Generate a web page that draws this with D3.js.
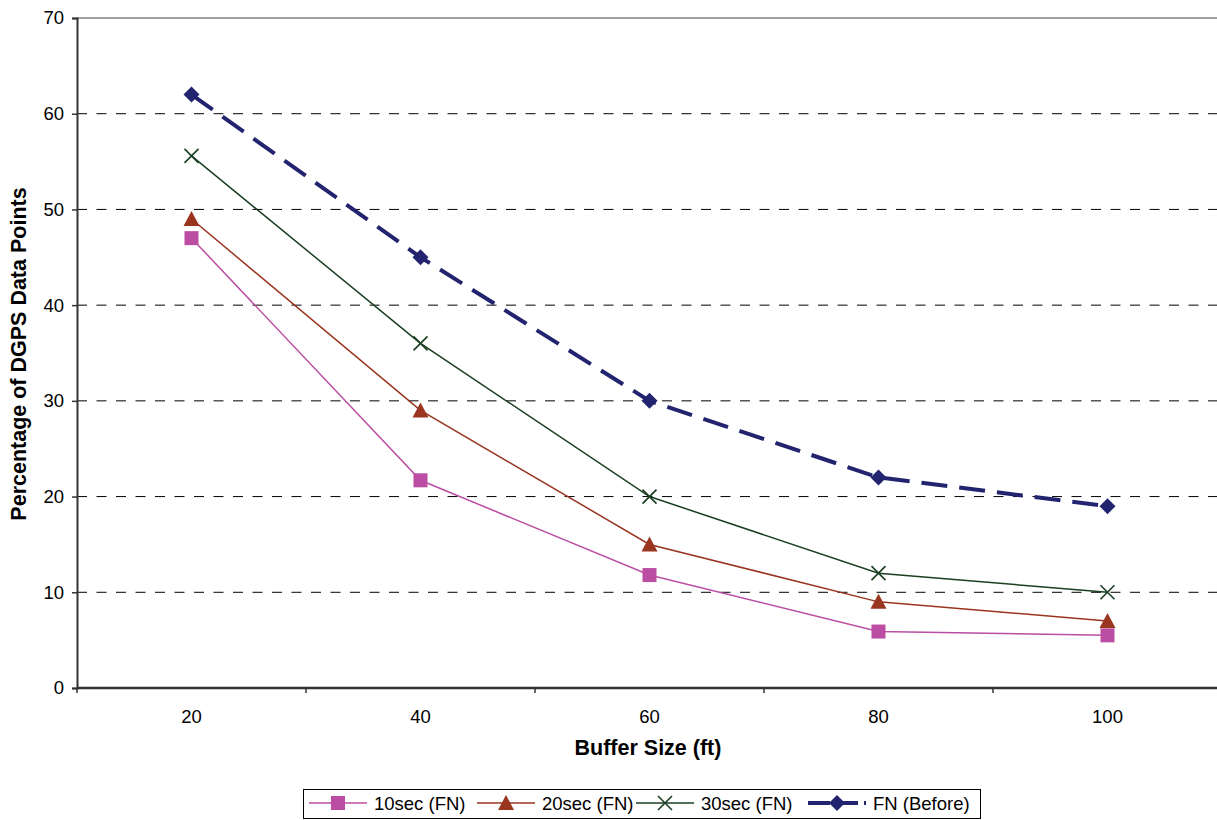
<!DOCTYPE html>
<html>
<head>
<meta charset="utf-8">
<script src="https://cdn.jsdelivr.net/npm/d3@7"></script>
<style>
  body { margin: 0; background: #fff; }
  svg text { font-family: "Liberation Sans", Arial, sans-serif; fill: #000; }
</style>
</head>
<body>
<div class="chart"></div>
<script>
var bufferSizes = ["20", "40", "60", "80", "100"]
var sec10 = [47, 21.7, 11.8, 5.9, 5.5]
var sec20 = [49, 29, 15, 9, 7]
var sec30 = [55.6, 36, 20, 12, 10]
var fnBefore = [62, 45, 30, 22, 19]
var yTicks = [0, 10, 20, 30, 40, 50, 60, 70]

var series = [
  {name: "10sec (FN)", values: sec10, color: "#bb4ea3", marker: "square", width: 1.5, dash: null},
  {name: "20sec (FN)", values: sec20, color: "#9a3520", marker: "triangle", width: 1.5, dash: null},
  {name: "30sec (FN)", values: sec30, color: "#1b3f22", marker: "cross", width: 1.5, dash: null},
  {name: "FN (Before)", values: fnBefore, color: "#23246f", marker: "diamond", width: 4, dash: "26,12"}
]

var width = 1217, height = 820
var plotLeft = 77, plotTop = 18, plotBottom = 688, plotRight = 1222

var svg = d3.select(".chart").append("svg")
  .attr("width", width)
  .attr("height", height)

var x = d3.scaleBand().domain(bufferSizes).range([plotLeft, plotRight])
var y = d3.scaleLinear().domain([0, 70]).range([plotBottom, plotTop])

// grid
svg.append("g").selectAll("line")
  .data(yTicks.filter(function (d) { return d > 0 && d < 70 }))
  .enter().append("line")
  .attr("x1", plotLeft).attr("x2", width)
  .attr("y1", function (d) { return y(d) }).attr("y2", function (d) { return y(d) })
  .attr("stroke", "#000").attr("stroke-width", 1).attr("stroke-dasharray", "10,9.5")

// top border
svg.append("line")
  .attr("x1", plotLeft).attr("x2", width).attr("y1", plotTop).attr("y2", plotTop)
  .attr("stroke", "#808080").attr("stroke-width", 1.5)

// y axis
var yAxis = svg.append("g")
  .attr("transform", "translate(" + plotLeft + ",0)")
  .call(d3.axisLeft(y).tickValues(yTicks).tickSize(5).tickPadding(8))
yAxis.select(".domain").attr("stroke", "#333").attr("stroke-width", 2)
yAxis.selectAll(".tick line").attr("stroke", "#333").attr("stroke-width", 1.5)
yAxis.selectAll("text").style("font-size", "18.5px")

// x axis with ticks between categories
var xAxis = svg.append("g")
  .attr("transform", "translate(0," + plotBottom + ")")
xAxis.append("line")
  .attr("x1", plotLeft).attr("x2", width)
  .attr("stroke", "#333").attr("stroke-width", 2.5)
xAxis.selectAll(".tk")
  .data(bufferSizes)
  .enter().append("line")
  .attr("class", "tk")
  .attr("x1", function (d) { return x(d) }).attr("x2", function (d) { return x(d) })
  .attr("y1", 0).attr("y2", 5)
  .attr("stroke", "#333").attr("stroke-width", 1.5)
xAxis.selectAll("text")
  .data(bufferSizes)
  .enter().append("text")
  .attr("x", function (d) { return x(d) + x.bandwidth() / 2 })
  .attr("y", 35)
  .attr("text-anchor", "middle")
  .style("font-size", "18.5px")
  .text(function (d) { return d })

// axis titles
svg.append("text")
  .attr("x", 648).attr("y", 755)
  .attr("text-anchor", "middle")
  .style("font-size", "21.5px").style("font-weight", "bold")
  .text("Buffer Size (ft)")

svg.append("text")
  .attr("transform", "translate(26,354) rotate(-90)")
  .attr("text-anchor", "middle")
  .style("font-size", "21.5px").style("font-weight", "bold")
  .text("Percentage of DGPS Data Points")

function cx(i) { return x(bufferSizes[i]) + x.bandwidth() / 2 }

function drawMarker(g, type, color) {
  if (type === "square") {
    g.append("rect").attr("x", -7).attr("y", -7).attr("width", 14).attr("height", 14).attr("fill", color)
  } else if (type === "triangle") {
    g.append("path").attr("d", "M0,-8L8,7L-8,7Z").attr("fill", color)
  } else if (type === "diamond") {
    g.append("path").attr("d", "M0,-8L8,0L0,8L-8,0Z").attr("fill", color)
  } else {
    g.append("path").attr("d", "M-7,-7L7,7M-7,7L7,-7").attr("stroke", color).attr("stroke-width", 1.6).attr("fill", "none")
  }
}

var line = d3.line()
  .x(function (d, i) { return cx(i) })
  .y(function (d) { return y(d) })

series.forEach(function (s) {
  svg.append("path")
    .datum(s.values)
    .attr("d", line)
    .attr("fill", "none")
    .attr("stroke", s.color)
    .attr("stroke-width", s.width)
    .attr("stroke-dasharray", s.dash)
  s.values.forEach(function (v, i) {
    var g = svg.append("g").attr("transform", "translate(" + cx(i) + "," + y(v) + ")")
    drawMarker(g, s.marker, s.color)
  })
})

// legend
var legend = svg.append("g")
legend.append("rect")
  .attr("x", 303.5).attr("y", 789.5).attr("width", 677).attr("height", 29)
  .attr("fill", "#fff").attr("stroke", "#000").attr("stroke-width", 1)

var legendX = [309, 477, 636, 808]
series.forEach(function (s, i) {
  var lx = legendX[i], ly = 803
  legend.append("line")
    .attr("x1", lx).attr("x2", lx + 58).attr("y1", ly).attr("y2", ly)
    .attr("stroke", s.color).attr("stroke-width", s.width)
    .attr("stroke-dasharray", s.dash ? "22,6" : null)
  var g = legend.append("g").attr("transform", "translate(" + (lx + 29) + "," + ly + ")")
  drawMarker(g, s.marker, s.color)
  legend.append("text")
    .attr("x", lx + 65).attr("y", ly + 6.5)
    .style("font-size", "18.5px")
    .text(s.name)
})
</script>
</body>
</html>
